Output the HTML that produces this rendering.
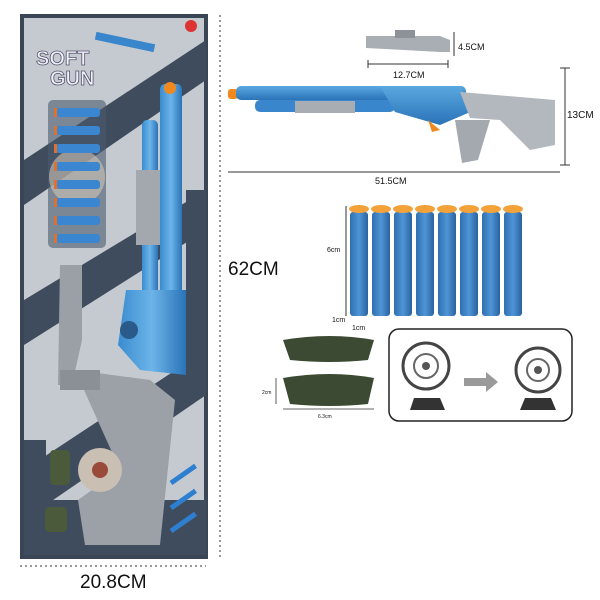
<!DOCTYPE html>
<html><head><meta charset="utf-8"><style>
html,body{margin:0;padding:0;background:#fff;width:600px;height:600px;overflow:hidden}
svg{display:block}
text{font-family:"Liberation Sans",sans-serif}
</style></head><body>
<svg width="600" height="600" viewBox="0 0 600 600">
<defs>
<linearGradient id="blue" x1="0" y1="0" x2="0" y2="1">
<stop offset="0" stop-color="#5aa8e0"/><stop offset="1" stop-color="#2a73b8"/></linearGradient>
<linearGradient id="bluev" x1="0" y1="0" x2="1" y2="0">
<stop offset="0" stop-color="#3a8cd0"/><stop offset="0.5" stop-color="#6cb4e8"/><stop offset="1" stop-color="#2a73b8"/></linearGradient>
<linearGradient id="dart" x1="0" y1="0" x2="1" y2="0">
<stop offset="0" stop-color="#2f6fb0"/><stop offset="0.5" stop-color="#4f95d6"/><stop offset="1" stop-color="#2a62a0"/></linearGradient>
</defs>
<!-- package -->
<rect x="22" y="16" width="184" height="541" fill="#c5cad0"/>
<rect x="22" y="16" width="184" height="541" fill="none" stroke="#3a4656" stroke-width="4"/>
<g fill="#3f4c5e">
<polygon points="24,160 206,40 206,80 24,205"/>
<polygon points="24,300 206,190 206,230 24,345"/>
<polygon points="24,470 206,350 206,395 24,520"/>
<rect x="24" y="500" width="182" height="55"/>
<rect x="24" y="440" width="22" height="110"/>
<rect x="186" y="190" width="20" height="200"/>
</g>
<text x="36" y="65" font-size="20" font-weight="bold" fill="#eef" stroke="#556" stroke-width="0.8">SOFT</text>
<text x="50" y="85" font-size="20" font-weight="bold" fill="#eef" stroke="#556" stroke-width="0.8">GUN</text>
<circle cx="191" cy="26" r="6" fill="#d33"/>
<rect x="95" y="38" width="60" height="8" fill="#3a86cc" transform="rotate(12 125 42)"/>
<!-- dart blister -->
<rect x="48" y="100" width="58" height="148" rx="5" fill="#4b5a6e" opacity="0.6"/>
<circle cx="77" cy="177" r="28" fill="#cfc4b6" opacity="0.6"/>
<g fill="#3a86d0">
<rect x="56" y="108" width="44" height="9" rx="3"/><rect x="56" y="126" width="44" height="9" rx="3"/>
<rect x="56" y="144" width="44" height="9" rx="3"/><rect x="56" y="162" width="44" height="9" rx="3"/>
<rect x="56" y="180" width="44" height="9" rx="3"/><rect x="56" y="198" width="44" height="9" rx="3"/>
<rect x="56" y="216" width="44" height="9" rx="3"/><rect x="56" y="234" width="44" height="9" rx="3"/>
</g>
<g fill="#e0702a"><rect x="54" y="108" width="3" height="9"/><rect x="54" y="126" width="3" height="9"/><rect x="54" y="144" width="3" height="9"/><rect x="54" y="162" width="3" height="9"/><rect x="54" y="180" width="3" height="9"/><rect x="54" y="198" width="3" height="9"/><rect x="54" y="216" width="3" height="9"/><rect x="54" y="234" width="3" height="9"/></g>
<!-- gun in package -->
<rect x="160" y="84" width="22" height="260" rx="5" fill="url(#bluev)"/>
<rect x="142" y="120" width="16" height="200" rx="5" fill="url(#bluev)"/>
<circle cx="170" cy="88" r="6" fill="#f08a20"/>
<rect x="136" y="170" width="24" height="75" fill="#a2a8ae"/>
<path d="M126 290 L186 290 L186 375 L140 370 L118 345 Z" fill="url(#bluev)"/>
<circle cx="129" cy="330" r="9" fill="#2a5a8a"/>
<path d="M60 265 L82 265 L82 340 L72 385 L58 385 Z" fill="#9aa0a6"/>
<path d="M75 370 L150 380 L175 400 L160 545 L85 545 L78 500 L120 470 Z" fill="#9ba1a7"/>
<rect x="60" y="370" width="40" height="20" fill="#8a9096"/>
<circle cx="100" cy="470" r="22" fill="#c9bfb3"/>
<circle cx="100" cy="470" r="8" fill="#9a4a3a"/>
<rect x="50" y="450" width="20" height="35" rx="4" fill="#4a5a3a"/>
<rect x="45" y="507" width="22" height="25" rx="4" fill="#4a5a3a"/>
<g fill="#2f7fd0"><rect x="168" y="472" width="30" height="5" transform="rotate(-35 183 474)"/><rect x="168" y="497" width="30" height="5" transform="rotate(-35 183 499)"/><rect x="168" y="520" width="30" height="5" transform="rotate(-35 183 522)"/></g>
<!-- dimension dotted lines -->
<line x1="220" y1="15" x2="220" y2="560" stroke="#333" stroke-dasharray="2,3" stroke-width="1"/>
<line x1="20" y1="566" x2="206" y2="566" stroke="#333" stroke-dasharray="2,3" stroke-width="1"/>
<text x="80" y="588" font-size="19" fill="#111">20.8CM</text>
<text x="228" y="275" font-size="19" fill="#111">62CM</text>
<!-- scope -->
<path d="M366 36 L440 36 L450 40 L450 52 L440 52 L366 48 Z" fill="#a9aeb4"/>
<rect x="395" y="30" width="20" height="8" fill="#8c9298"/>
<line x1="368" y1="64" x2="448" y2="64" stroke="#333"/>
<line x1="368" y1="60" x2="368" y2="68" stroke="#333"/><line x1="448" y1="60" x2="448" y2="68" stroke="#333"/>
<text x="393" y="78" font-size="9" fill="#111">12.7CM</text>
<line x1="454" y1="32" x2="454" y2="56" stroke="#333"/>
<text x="458" y="50" font-size="9" fill="#111">4.5CM</text>
<!-- big gun -->
<rect x="228" y="89" width="10" height="10" rx="3" fill="#f08a20"/>
<rect x="236" y="86" width="230" height="14" rx="5" fill="url(#blue)"/>
<rect x="255" y="100" width="140" height="12" rx="5" fill="#3a86cc"/>
<rect x="295" y="101" width="60" height="12" fill="#a8adb3"/>
<path d="M380 86 L460 86 L475 110 L440 125 L395 112 Z" fill="url(#blue)"/>
<path d="M460 92 L555 100 L555 145 L530 150 L500 120 L470 118 Z" fill="#b3b8be"/>
<path d="M455 120 L490 120 L478 160 L462 163 Z" fill="#a4a9af"/>
<path d="M428 120 L440 130 L432 132 Z" fill="#f08a20"/>
<line x1="565" y1="68" x2="565" y2="165" stroke="#333"/>
<line x1="560" y1="68" x2="570" y2="68" stroke="#333"/><line x1="560" y1="165" x2="570" y2="165" stroke="#333"/>
<text x="567" y="118" font-size="10" fill="#111">13CM</text>
<line x1="228" y1="172" x2="560" y2="172" stroke="#333"/>
<text x="375" y="184" font-size="9" fill="#111">51.5CM</text>
<!-- darts -->
<g>
<rect x="350" y="212" width="18" height="104" rx="3" fill="url(#dart)"/>
<rect x="372" y="212" width="18" height="104" rx="3" fill="url(#dart)"/>
<rect x="394" y="212" width="18" height="104" rx="3" fill="url(#dart)"/>
<rect x="416" y="212" width="18" height="104" rx="3" fill="url(#dart)"/>
<rect x="438" y="212" width="18" height="104" rx="3" fill="url(#dart)"/>
<rect x="460" y="212" width="18" height="104" rx="3" fill="url(#dart)"/>
<rect x="482" y="212" width="18" height="104" rx="3" fill="url(#dart)"/>
<rect x="504" y="212" width="18" height="104" rx="3" fill="url(#dart)"/>
</g>
<g fill="#f3a23a">
<ellipse cx="359" cy="209" rx="10" ry="4"/><ellipse cx="381" cy="209" rx="10" ry="4"/><ellipse cx="403" cy="209" rx="10" ry="4"/><ellipse cx="425" cy="209" rx="10" ry="4"/>
<ellipse cx="447" cy="209" rx="10" ry="4"/><ellipse cx="469" cy="209" rx="10" ry="4"/><ellipse cx="491" cy="209" rx="10" ry="4"/><ellipse cx="513" cy="209" rx="10" ry="4"/>
</g>
<line x1="346" y1="206" x2="346" y2="316" stroke="#333"/>
<text x="327" y="252" font-size="7" fill="#111">6cm</text>
<text x="332" y="322" font-size="7" fill="#111">1cm</text>
<text x="352" y="330" font-size="7" fill="#111">1cm</text>
<!-- stands -->
<path d="M283 340 Q330 332 374 340 L368 360 Q330 364 290 360 Z" fill="#3d4a33"/>
<path d="M283 378 Q330 370 374 378 L368 404 Q330 408 290 404 Z" fill="#3d4a33"/>
<line x1="276" y1="378" x2="276" y2="404" stroke="#333" stroke-width="0.8"/>
<text x="262" y="394" font-size="5" fill="#111">2cm</text>
<line x1="283" y1="409" x2="374" y2="409" stroke="#333" stroke-width="0.8"/>
<text x="318" y="418" font-size="5" fill="#111">6.3cm</text>
<!-- target box -->
<rect x="389" y="329" width="183" height="92" rx="10" fill="#fff" stroke="#222" stroke-width="1.5"/>
<circle cx="426" cy="366" r="23" fill="#fff" stroke="#444" stroke-width="3"/>
<circle cx="426" cy="366" r="12" fill="none" stroke="#666" stroke-width="2"/>
<circle cx="426" cy="366" r="4" fill="#555"/>
<path d="M410 410 L445 410 L440 398 L414 398 Z" fill="#333"/>
<circle cx="538" cy="370" r="22" fill="#fff" stroke="#444" stroke-width="3"/>
<circle cx="538" cy="370" r="11" fill="none" stroke="#666" stroke-width="2"/>
<circle cx="538" cy="370" r="4" fill="#555"/>
<path d="M520 410 L556 410 L551 398 L525 398 Z" fill="#333"/>
<path d="M464 378 L486 378 L486 372 L498 382 L486 392 L486 386 L464 386 Z" fill="#9a9a9a"/>
</svg>
</body></html>
